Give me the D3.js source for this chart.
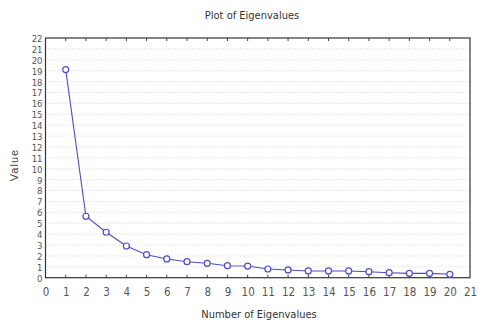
<!DOCTYPE html>
<html><head><meta charset="utf-8">
<script src="https://cdn.jsdelivr.net/npm/d3@7"></script>
<style>body{margin:0;background:#fff;}svg{display:block;}</style>
</head><body><svg id="c" width="478" height="322"></svg>
<script>
const eigenNumbers = [1,2,3,4,5,6,7,8,9,10,11,12,13,14,15,16,17,18,19,20];
const eigenValues = [19.1,5.64,4.17,2.91,2.11,1.72,1.47,1.32,1.1,1.07,0.8,0.71,0.62,0.62,0.62,0.55,0.46,0.4,0.4,0.31];
const xTicks = d3.range(0,22);
const yTicks = d3.range(0,23);
const title = "Plot of Eigenvalues";
const xTitle = "Number of Eigenvalues";
const yTitle = "Value";

const svg = d3.select("#c");
const L=45.5, R=470, T=38, B=277.7;
const x = d3.scaleLinear().domain([0,21]).range([L,R]);
const y = d3.scaleLinear().domain([0,22]).range([B,T]);
const narrow = "'DejaVu Sans Condensed','Liberation Sans Narrow','Arial Narrow',sans-serif";

// grid
svg.append("g").selectAll("line").data(yTicks.slice(1,-1)).join("line")
  .attr("x1",L).attr("x2",R).attr("y1",d=>y(d)).attr("y2",d=>y(d))
  .attr("stroke","#c8c8c8").attr("stroke-width",0.8).attr("stroke-dasharray","1,2");

// axes
const xa = svg.append("g").attr("transform",`translate(0,${B})`)
  .call(d3.axisBottom(x).tickValues(xTicks).tickSize(0).tickPadding(10).tickFormat(d3.format("d")));
const ya = svg.append("g").attr("transform",`translate(${L},0)`)
  .call(d3.axisLeft(y).tickValues(yTicks).tickSize(0).tickPadding(3).tickFormat(d3.format("d")));
[xa,ya].forEach(a=>{a.select(".domain").remove();
  a.selectAll("text").attr("font-family",narrow).attr("font-stretch","condensed").attr("fill","#555");});
xa.selectAll("text").attr("font-size",11.5);
ya.selectAll("text").attr("font-size",9.5).attr("dy","0.36em");

// inner tick marks top and bottom
const tk = svg.append("g").attr("stroke","#444").attr("stroke-width",1);
tk.selectAll(".tt").data(xTicks.slice(1,-1)).join("line").attr("class","tt")
  .attr("x1",d=>x(d)).attr("x2",d=>x(d)).attr("y1",T).attr("y2",T+3);
tk.selectAll(".tb").data(xTicks.slice(1,-1)).join("line").attr("class","tb")
  .attr("x1",d=>x(d)).attr("x2",d=>x(d)).attr("y1",B).attr("y2",B-3);

// frame
svg.append("rect").attr("x",L).attr("y",T).attr("width",R-L).attr("height",B-T)
  .attr("fill","none").attr("stroke","#333").attr("stroke-width",1.2);

// line
const pts = eigenNumbers.map((n,i)=>[n,eigenValues[i]]);
svg.append("path").datum(pts)
  .attr("d",d3.line().x(d=>x(d[0])).y(d=>y(d[1])))
  .attr("fill","none").attr("stroke","#4d4dc4").attr("stroke-width",1.1);
svg.append("g").selectAll("circle").data(pts).join("circle")
  .attr("cx",d=>x(d[0])).attr("cy",d=>y(d[1])).attr("r",3)
  .attr("fill","#fff").attr("stroke","#4d4dc4").attr("stroke-width",1.2);

// titles
svg.append("text").attr("x",252).attr("y",19).attr("text-anchor","middle")
  .attr("font-family",narrow).attr("font-stretch","condensed").attr("font-size",11).attr("fill","#333").text(title);
svg.append("text").attr("x",259).attr("y",318).attr("text-anchor","middle")
  .attr("font-family",narrow).attr("font-stretch","condensed").attr("font-size",11).attr("fill","#333").text(xTitle);
svg.append("text").attr("transform","translate(18,165) rotate(-90)").attr("text-anchor","middle")
  .attr("font-family","'Liberation Sans',Arial,sans-serif").attr("font-size",11).attr("letter-spacing",1)
  .attr("fill","#444").text(yTitle);
</script></body></html>
